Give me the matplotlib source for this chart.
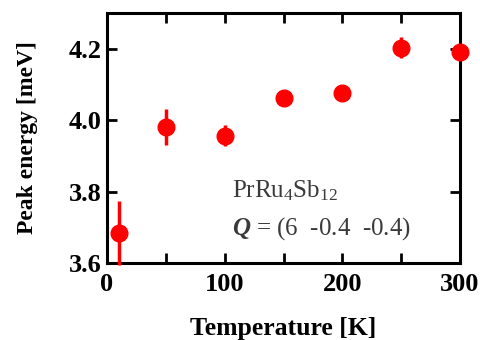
import matplotlib
matplotlib.use("Agg")
import matplotlib.pyplot as plt

plt.rcParams["font.family"] = ["Liberation Serif", "DejaVu Serif"]
plt.rcParams["mathtext.fontset"] = "custom"
plt.rcParams["mathtext.rm"] = "Liberation Serif"
plt.rcParams["mathtext.it"] = "Liberation Serif:italic"
plt.rcParams["mathtext.bf"] = "Liberation Serif:bold"
plt.rcParams["mathtext.bfit"] = "Liberation Serif:bold:italic"

temperature = [10, 50, 100, 150, 200, 250, 300]
peak_energy = [3.684, 3.98, 3.957, 4.061, 4.077, 4.203, 4.192]
peak_err = [0.09, 0.05, 0.03, 0.012, 0.012, 0.03, 0.012]

fig = plt.figure(figsize=(4.81, 3.40), dpi=100)
ax = fig.add_axes([107 / 481, 1 - 263 / 340, 353 / 481, 250 / 340])

ax.errorbar(temperature, peak_energy, yerr=peak_err, fmt="o", color="#ff0000",
            ms=12, elinewidth=2.5, capsize=0, clip_on=False, zorder=3)

ax.set_xlim(0, 300)
ax.set_ylim(3.6, 4.3)
ax.set_xticks([0, 100, 200, 300])
ax.set_xticks([50, 150, 250], minor=True)
ax.set_yticks([3.6, 3.8, 4.0, 4.2])
ax.set_yticklabels(["3.6", "3.8", "4.0", "4.2"])
ax.tick_params(which="both", direction="in", top=True, right=True,
               width=2, length=7, labelsize=19)
ax.tick_params(axis="x", pad=7)
ax.tick_params(axis="y", pad=4)
for lab in ax.get_xticklabels() + ax.get_yticklabels():
    lab.set_fontweight("bold")
for sp in ax.spines.values():
    sp.set_linewidth(2.2)

ax.set_xlabel("Temperature [K]", fontsize=18.5, fontweight="bold", va="center")
ax.set_ylabel("Peak energy [meV]", fontsize=17, fontweight="bold", va="center")
ax.xaxis.set_label_coords(0.5, -0.26)
ax.yaxis.set_label_coords(-0.224, 0.5)

ax.text(0.354, 0.264, r"PrRu$_4$Sb$_{12}$", transform=ax.transAxes, fontsize=18,
        color="#3a3a3a", va="baseline")
ax.text(0.354, 0.112, r"$\boldsymbol{Q}$ = (6  -0.4  -0.4)", transform=ax.transAxes,
        fontsize=18, color="#3a3a3a", va="baseline")

fig.savefig("out.png", dpi=100)
